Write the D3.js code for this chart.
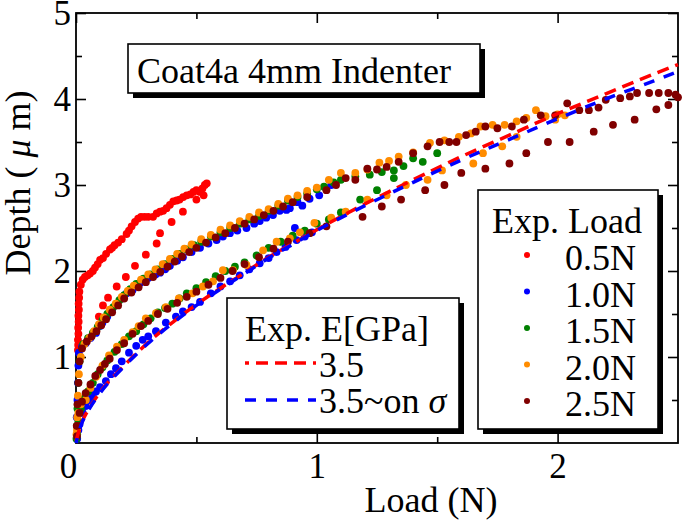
<!DOCTYPE html>
<html><head><meta charset="utf-8">
<script src="https://cdn.jsdelivr.net/npm/d3@7"></script>
<style>body{margin:0;background:#fff}svg{display:block}</style>
</head><body><svg id="c" width="685" height="521"></svg>
<script>
// ---------- data ----------
const xMajorTicks = [0, 1, 2];
const xMinorTicks = [0.5, 1.5];
const yMajorTicks = [1, 2, 3, 4, 5];
const yMinorTicks = [0.5, 1.5, 2.5, 3.5, 4.5];
const xTickLabels = ["0", "1", "2"];
const yTickLabels = ["1", "2", "3", "4", "5"];

const loadNames = ["0.5N", "1.0N", "1.5N", "2.0N", "2.5N"];
const loadColors = ["#ff0000", "#0000ff", "#008000", "#ff8c00", "#800000"];

// [load (N), depth (um)]
const s05N = [
  [0.008,1.08],[0.009,1.14],[0.008,1.2],[0.010,1.27],[0.009,1.34],[0.011,1.41],[0.010,1.48],[0.012,1.55],[0.011,1.62],[0.013,1.69],[0.014,1.76],
  [0.020,1.84],[0.028,1.9],[0.037,1.93],[0.048,1.95],[0.058,1.97],[0.070,2.0],[0.079,2.04],[0.090,2.08],[0.100,2.13],[0.112,2.15],[0.125,2.2],
  [0.141,2.25],[0.150,2.27],[0.160,2.3],[0.175,2.33],[0.190,2.37],[0.210,2.43],[0.220,2.47],[0.231,2.52],[0.245,2.57],[0.258,2.61],[0.270,2.63],
  [0.285,2.63],[0.300,2.63],[0.320,2.63],[0.335,2.67],[0.349,2.69],[0.362,2.7],[0.376,2.73],[0.390,2.77],[0.404,2.81],[0.418,2.82],[0.430,2.83],
  [0.445,2.86],[0.460,2.88],[0.475,2.89],[0.488,2.92],[0.500,2.94],[0.515,2.92],[0.525,2.96],[0.535,3.0],[0.543,3.02],
  [0.095,1.47],[0.112,1.6],[0.133,1.69],[0.169,1.82],[0.207,1.93],[0.245,2.06],[0.290,2.19],[0.335,2.32],[0.349,2.44],[0.397,2.57],[0.444,2.69],[0.500,2.83],[0.530,2.88]
];
const s10N = [
  [0.003,0.3],[0.006,0.5],[0.008,0.7],[0.010,0.9],[0.012,1.05],[0.025,1.12],[0.040,1.16],[0.060,1.22],[0.083,1.28],[0.100,1.36],[0.110,1.4],
  [0.130,1.47],[0.150,1.55],[0.170,1.62],[0.190,1.68],[0.210,1.74],[0.235,1.78],[0.266,1.86],[0.300,1.92],[0.330,1.96],[0.349,1.98],[0.370,2.02],
  [0.390,2.06],[0.420,2.12],[0.444,2.16],[0.480,2.22],[0.515,2.27],[0.550,2.32],[0.584,2.36],[0.610,2.4],[0.639,2.44],[0.670,2.47],[0.708,2.5],
  [0.740,2.55],[0.763,2.58],[0.790,2.62],[0.818,2.65],[0.846,2.7],[0.874,2.71],[0.888,2.73],[0.920,2.8],[0.940,2.76],[0.970,2.84],[1.010,2.88],[1.040,2.96],[1.060,3.0],
  [0.005,0.05],[0.010,0.15],[0.015,0.22],[0.028,0.35],[0.040,0.43],[0.055,0.5],[0.070,0.55],[0.083,0.6],[0.100,0.65],[0.124,0.72],[0.145,0.8],
  [0.166,0.87],[0.190,0.95],[0.220,1.05],[0.250,1.13],[0.277,1.2],[0.300,1.24],[0.332,1.3],[0.373,1.4],[0.415,1.47],[0.444,1.53],[0.480,1.58],
  [0.515,1.64],[0.560,1.74],[0.600,1.82],[0.640,1.88],[0.680,1.95],[0.720,2.02],[0.763,2.09],[0.800,2.15],[0.833,2.22],[0.870,2.28],[0.916,2.36],
  [0.909,2.5],[0.950,2.4],[0.980,2.45]
];
const s15N = [
  [0.002,0.05],[0.004,0.2],[0.006,0.4],[0.010,0.7],[0.015,0.95],[0.030,1.15],[0.050,1.22],[0.070,1.28],[0.090,1.35],[0.110,1.43],[0.130,1.5],
  [0.155,1.58],[0.180,1.66],[0.200,1.72],[0.225,1.79],[0.250,1.85],[0.280,1.91],[0.310,1.96],[0.340,2.02],[0.370,2.08],[0.400,2.14],[0.430,2.2],
  [0.460,2.25],[0.490,2.3],[0.520,2.34],[0.560,2.4],[0.600,2.45],[0.640,2.5],[0.680,2.55],[0.720,2.6],[0.760,2.64],[0.800,2.7],[0.840,2.76],
  [0.880,2.82],[0.920,2.86],[0.960,2.9],[1.000,2.95],[1.030,2.98],[1.070,3.03],[1.100,3.06],[1.160,3.1],[1.220,3.12],[1.270,3.15],[1.320,3.17],
  [1.360,3.22],[1.400,3.31],[1.440,3.27],[1.500,3.37],
  [0.005,0.1],[0.010,0.25],[0.020,0.4],[0.035,0.52],[0.050,0.6],[0.070,0.7],[0.090,0.8],[0.110,0.88],[0.130,0.96],[0.160,1.06],[0.190,1.15],
  [0.220,1.24],[0.250,1.3],[0.280,1.38],[0.310,1.45],[0.340,1.52],[0.370,1.57],[0.400,1.62],[0.430,1.68],[0.460,1.74],[0.500,1.8],[0.540,1.87],
  [0.580,1.94],[0.620,2.0],[0.660,2.05],[0.700,2.1],[0.750,2.18],[0.800,2.27],[0.850,2.34],[0.900,2.41],[0.950,2.47],[1.000,2.55],[1.050,2.6],
  [1.100,2.68],[1.180,2.83],[1.250,2.94],[1.320,3.08]
];
const s20N = [
  [0.002,0.1],[0.005,0.3],[0.008,0.55],[0.012,0.8],[0.020,1.0],[0.035,1.15],[0.055,1.22],[0.075,1.3],[0.095,1.38],[0.115,1.46],[0.140,1.55],
  [0.165,1.62],[0.190,1.7],[0.215,1.77],[0.240,1.83],[0.270,1.9],[0.300,1.96],[0.330,2.02],[0.360,2.08],[0.390,2.14],[0.420,2.2],[0.450,2.26],
  [0.480,2.31],[0.520,2.37],[0.560,2.42],[0.600,2.48],[0.640,2.53],[0.680,2.58],[0.720,2.63],[0.760,2.68],[0.800,2.72],[0.840,2.78],[0.880,2.84],
  [0.920,2.88],[0.960,2.93],[1.000,2.97],[1.050,3.06],[1.100,3.14],[1.160,3.14],[1.210,3.18],[1.260,3.26],[1.300,3.28],[1.340,3.33],[1.400,3.38],
  [1.470,3.49],[1.530,3.52],[1.590,3.56],[1.640,3.6],[1.680,3.68],[1.730,3.7],[1.780,3.7],[1.830,3.74],[1.870,3.78],[1.910,3.87],[1.950,3.8],[2.000,3.82],
  [0.004,0.15],[0.010,0.35],[0.020,0.45],[0.041,0.5],[0.060,0.64],[0.083,0.77],[0.110,0.9],[0.137,1.02],[0.170,1.12],[0.200,1.2],[0.235,1.29],
  [0.260,1.36],[0.290,1.45],[0.332,1.51],[0.373,1.58],[0.427,1.68],[0.484,1.74],[0.527,1.82],[0.569,1.88],[0.610,2.01],[0.652,2.01],[0.708,2.07],
  [0.777,2.24],[0.833,2.34],[0.888,2.38],[0.930,2.45],[0.990,2.56],[1.060,2.62],[1.120,2.69],[1.210,2.83],[1.290,2.88],[1.370,3.0],[1.460,3.06],
  [1.520,3.17],[1.650,3.25],[1.690,3.37],[1.770,3.45],[1.830,3.56],[1.990,3.76],[2.030,3.81]
];
const s25N = [
  [0.003,0.2],[0.006,0.45],[0.010,0.7],[0.015,0.95],[0.025,1.1],[0.045,1.18],[0.065,1.24],[0.085,1.3],[0.105,1.37],[0.125,1.44],[0.150,1.52],
  [0.175,1.6],[0.200,1.68],[0.230,1.75],[0.260,1.81],[0.290,1.87],[0.320,1.93],[0.350,1.99],[0.380,2.05],[0.410,2.11],[0.440,2.17],[0.470,2.22],
  [0.500,2.27],[0.540,2.33],[0.580,2.39],[0.620,2.44],[0.660,2.5],[0.700,2.55],[0.740,2.6],[0.780,2.65],[0.820,2.7],[0.860,2.75],[0.900,2.8],
  [0.960,2.86],[1.040,2.94],[1.080,3.0],[1.120,3.08],[1.160,3.06],[1.210,3.19],[1.250,3.18],[1.290,3.21],[1.340,3.27],[1.400,3.37],[1.460,3.45],
  [1.510,3.5],[1.550,3.5],[1.580,3.5],[1.620,3.58],[1.660,3.62],[1.700,3.68],[1.750,3.66],[1.810,3.68],[1.860,3.76],[1.930,3.81],[1.990,3.81],
  [2.040,3.95],[2.090,3.87],[2.130,3.87],[2.170,3.9],[2.200,3.99],[2.260,4.01],[2.300,4.03],[2.330,4.07],[2.380,4.07],[2.420,4.07],[2.460,4.07],[2.490,4.05],
  [0.004,0.08],[0.008,0.2],[0.015,0.35],[0.025,0.48],[0.040,0.58],[0.060,0.68],[0.080,0.78],[0.100,0.85],[0.120,0.92],[0.140,0.98],[0.170,1.08],
  [0.200,1.16],[0.235,1.27],[0.270,1.36],[0.300,1.42],[0.340,1.5],[0.380,1.56],[0.420,1.63],[0.460,1.7],[0.500,1.76],[0.550,1.84],[0.600,1.92],
  [0.650,2.0],[0.700,2.08],[0.760,2.16],[0.820,2.26],[0.880,2.34],[0.970,2.44],[1.040,2.52],
  [1.190,2.63],[1.270,2.75],[1.350,2.83],[1.450,2.94],[1.530,3.0],[1.600,3.14],[1.700,3.19],[1.800,3.25],[1.870,3.37],[1.960,3.5],[2.050,3.5],
  [2.150,3.62],[2.230,3.7],[2.320,3.76],[2.410,3.88],[2.460,3.93],[2.500,4.02]
];
const loadSeriesData = [s05N, s10N, s15N, s20N, s25N];

const modelNames = ["3.5", "3.5~on σ"];
const modelColors = ["#ff0000", "#0000ff"];
const modelLoad  = [0, 0.02, 0.05, 0.1, 0.2, 0.3, 0.4, 0.5, 0.6, 0.7, 0.8, 0.9, 1.0, 1.2, 1.4, 1.6, 1.8, 2.0, 2.2, 2.4, 2.5];
const modelE35   = [0.02, 0.21, 0.38, 0.59, 0.9, 1.17, 1.4, 1.61, 1.8, 1.98, 2.16, 2.32, 2.48, 2.78, 3.06, 3.33, 3.58, 3.83, 4.06, 4.29, 4.4];
const modelE35s  = [0.0, 0.2, 0.37, 0.58, 0.89, 1.16, 1.39, 1.6, 1.79, 1.97, 2.15, 2.31, 2.47, 2.76, 3.03, 3.29, 3.53, 3.77, 4.0, 4.21, 4.32];

// ---------- drawing ----------
const W = 685, H = 521;
const svg = d3.select("#c");
const FONT = "'Liberation Serif','Times New Roman',Times,serif";
const x = d3.scaleLinear().domain([0, 2.5]).range([76, 678]);
const y = d3.scaleLinear().domain([0, 5]).range([443, 13]);

svg.append("rect").attr("width", W).attr("height", H).attr("fill", "#fff");

function styleAxis(g) {
  g.select(".domain").remove();
  g.selectAll("line").attr("stroke", "#000").attr("stroke-width", 1.6);
  g.selectAll("text").attr("font-family", FONT).attr("font-size", 35).attr("fill", "#000");
}
// bottom
svg.append("g").attr("transform", `translate(0,${y(0)})`)
  .call(d3.axisBottom(x).tickValues(xMajorTicks).tickSize(-10).tickPadding(10).tickFormat((d, i) => xTickLabels[i]))
  .call(styleAxis)
  .call(g => g.selectAll(".tick").filter(d => d === 0).select("text").attr("x", -8));
svg.append("g").attr("transform", `translate(0,${y(0)})`)
  .call(d3.axisBottom(x).tickValues(xMinorTicks).tickSize(-6).tickFormat("")).call(styleAxis);
// top
svg.append("g").attr("transform", `translate(0,${y(5)})`)
  .call(d3.axisTop(x).tickValues(xMajorTicks).tickSize(-10).tickFormat("")).call(styleAxis);
svg.append("g").attr("transform", `translate(0,${y(5)})`)
  .call(d3.axisTop(x).tickValues(xMinorTicks).tickSize(-6).tickFormat("")).call(styleAxis);
// left
svg.append("g").attr("transform", `translate(${x(0)},0)`)
  .call(d3.axisLeft(y).tickValues(yMajorTicks).tickSize(-10).tickPadding(5).tickFormat((d, i) => yTickLabels[i]))
  .call(styleAxis);
svg.append("g").attr("transform", `translate(${x(0)},0)`)
  .call(d3.axisLeft(y).tickValues(yMinorTicks).tickSize(-6).tickFormat("")).call(styleAxis);
// right
svg.append("g").attr("transform", `translate(${x(2.5)},0)`)
  .call(d3.axisRight(y).tickValues(yMajorTicks).tickSize(-10).tickFormat("")).call(styleAxis);
svg.append("g").attr("transform", `translate(${x(2.5)},0)`)
  .call(d3.axisRight(y).tickValues(yMinorTicks).tickSize(-6).tickFormat("")).call(styleAxis);

// frame
svg.append("rect").attr("x", x(0)).attr("y", y(5))
  .attr("width", x(2.5) - x(0)).attr("height", y(0) - y(5))
  .attr("fill", "none").attr("stroke", "#000").attr("stroke-width", 1.8);

// axis titles
svg.append("text").attr("x", 431).attr("y", 512).attr("text-anchor", "middle")
  .attr("font-family", FONT).attr("font-size", 36).text("Load (N)");
const yl = svg.append("text").attr("transform", "translate(30,183) rotate(-90)").attr("text-anchor", "middle")
  .attr("font-family", FONT).attr("font-size", 36);
yl.append("tspan").text("Depth ( ");
yl.append("tspan").attr("font-style", "italic").text("μ");
yl.append("tspan").text(" m)");

// points
loadSeriesData.forEach((arr, i) => {
  svg.append("g").selectAll("circle").data(arr).join("circle")
    .attr("cx", d => x(d[0])).attr("cy", d => y(d[1])).attr("r", 3.9)
    .attr("fill", loadColors[i]);
});

// model lines
const line = d3.line().x(d => x(d[0])).y(d => y(d[1])).curve(d3.curveMonotoneX);
svg.append("path").datum(modelLoad.map((v, i) => [v, modelE35[i]])).attr("d", line)
  .attr("fill", "none").attr("stroke", modelColors[0]).attr("stroke-width", 3.5).attr("stroke-dasharray", "12,7");
svg.append("path").datum(modelLoad.map((v, i) => [v, modelE35s[i]])).attr("d", line)
  .attr("fill", "none").attr("stroke", modelColors[1]).attr("stroke-width", 3.5).attr("stroke-dasharray", "11,10").attr("stroke-dashoffset", 6);

// boxed legend helper
function box(x0, y0, w, h) {
  svg.append("rect").attr("x", x0 + 5).attr("y", y0 + 5).attr("width", w).attr("height", h).attr("fill", "#000");
  svg.append("rect").attr("x", x0).attr("y", y0).attr("width", w).attr("height", h)
    .attr("fill", "#fff").attr("stroke", "#000").attr("stroke-width", 1.6);
}
// title box
box(128, 44, 352, 49);
svg.append("text").attr("x", 137).attr("y", 83).attr("font-family", FONT).attr("font-size", 36).text("Coat4a 4mm Indenter");

// model legend
box(227, 298, 232, 131);
svg.append("text").attr("x", 245).attr("y", 341).attr("font-family", FONT).attr("font-size", 36).text("Exp. E[GPa]");
const mlY = [363, 400], mlT = [377, 413];
modelNames.forEach((n, i) => {
  svg.append("line").attr("x1", 245).attr("x2", 316).attr("y1", mlY[i]).attr("y2", mlY[i])
    .attr("stroke", modelColors[i]).attr("stroke-width", 3.5)
    .attr("stroke-dasharray", i === 0 ? "12,7" : "11,10").attr("stroke-dashoffset", i === 0 ? 8 : 0);
  const t = svg.append("text").attr("x", 319).attr("y", mlT[i]).attr("font-family", FONT).attr("font-size", 36);
  if (n.includes("σ")) {
    t.append("tspan").text(n.replace("σ", ""));
    t.append("tspan").attr("font-style", "italic").text("σ");
  } else t.text(n);
});

// load legend
box(478, 190, 180, 239);
svg.append("text").attr("x", 492).attr("y", 233).attr("font-family", FONT).attr("font-size", 36).text("Exp. Load");
loadNames.forEach((n, i) => {
  const cy = 255 + i * 36.5;
  svg.append("circle").attr("cx", 527).attr("cy", cy).attr("r", 3).attr("fill", loadColors[i]);
  svg.append("text").attr("x", 565).attr("y", cy + 15).attr("font-family", FONT).attr("font-size", 36).text(n);
});
</script>
</body></html>
